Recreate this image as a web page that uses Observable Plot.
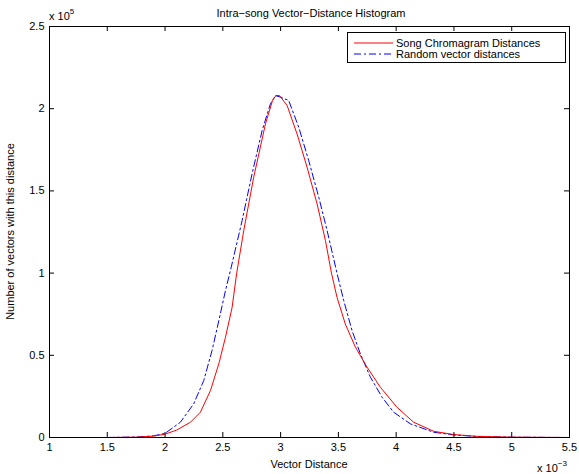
<!DOCTYPE html>
<html>
<head>
<meta charset="utf-8">
<script src="https://cdn.jsdelivr.net/npm/d3@7"></script>
<script src="https://cdn.jsdelivr.net/npm/@observablehq/plot@0.6"></script>
<style>
  html, body { margin: 0; padding: 0; background: #fff; }
  svg { font-family: "Liberation Sans", Arial, Helvetica, sans-serif; }
</style>
</head>
<body>
<div id="chart"></div>
<script>
// Distances in units of 1e-3, counts in units of 1e5
const songDist = [1.5, 1.75, 1.9, 2.0, 2.1, 2.22, 2.306, 2.393, 2.465, 2.523, 2.58, 2.62, 2.681, 2.767, 2.869, 2.93, 2.96, 2.99, 3.056, 3.142, 3.229, 3.316, 3.388, 3.44, 3.488, 3.56, 3.647, 3.748, 3.863, 4.007, 4.151, 4.324, 4.497, 4.7, 5.0, 5.5];
const songCount = [0, 0.002, 0.008, 0.02, 0.045, 0.093, 0.154, 0.286, 0.448, 0.61, 0.79, 1.0, 1.259, 1.583, 1.908, 2.05, 2.08, 2.08, 2.02, 1.847, 1.644, 1.42, 1.198, 1.0, 0.853, 0.69, 0.55, 0.428, 0.306, 0.184, 0.093, 0.038, 0.018, 0.007, 0.002, 0];
const randDist = [1.5, 1.75, 1.9, 2.0, 2.133, 2.248, 2.335, 2.407, 2.465, 2.523, 2.566, 2.667, 2.753, 2.84, 2.912, 2.955, 3.0, 3.07, 3.157, 3.243, 3.33, 3.402, 3.488, 3.546, 3.618, 3.69, 3.777, 3.878, 3.978, 4.123, 4.324, 4.497, 4.7, 5.0, 5.5];
const randCount = [0, 0.003, 0.01, 0.025, 0.093, 0.205, 0.347, 0.53, 0.71, 0.894, 1.016, 1.32, 1.604, 1.867, 2.03, 2.08, 2.07, 2.05, 1.887, 1.685, 1.462, 1.26, 1.0, 0.833, 0.651, 0.509, 0.367, 0.245, 0.154, 0.083, 0.032, 0.016, 0.006, 0.002, 0];
const xTicks = [1, 1.5, 2, 2.5, 3, 3.5, 4, 4.5, 5, 5.5];
const yTicks = [0, 0.5, 1, 1.5, 2, 2.5];
const seriesNames = ["Song Chromagram Distances", "Random vector distances"];
const titleText = "Intra\u2212song Vector\u2212Distance Histogram";
const xLabel = "Vector Distance";
const yLabel = "Number of vectors with this distance";

const song = songDist.map((d, i) => ({x: d, y: songCount[i]}));
const rand = randDist.map((d, i) => ({x: d, y: randCount[i]}));

const W = 579, H = 474;
const mL = 49, mR = 10, mT = 26, mB = 37;
const xDom = [1, 5.5], yDom = [0, 2.5];
const fw = W - mL - mR, fh = H - mT - mB, tl = 5;
const tx = tl / fw * (xDom[1] - xDom[0]);  // tick length in x units
const ty = tl / fh * (yDom[1] - yDom[0]);  // tick length in y units

const plot = Plot.plot({
  width: W,
  height: H,
  marginLeft: mL,
  marginRight: mR,
  marginTop: mT,
  marginBottom: mB,
  style: {fontFamily: '"Liberation Sans", Arial, sans-serif', fontSize: "11px", color: "#000", background: "#fff"},
  x: {domain: xDom},
  y: {domain: yDom},
  marks: [
    Plot.line(rand, {x: "x", y: "y", stroke: "#0000ff", strokeWidth: 1, strokeDasharray: "7,3,2,3"}),
    Plot.line(song, {x: "x", y: "y", stroke: "#ff0000", strokeWidth: 1}),
    Plot.axisX(xTicks, {anchor: "bottom", tickSize: 0, tickPadding: 6, label: null, tickFormat: d => String(d), fontSize: 11}),
    Plot.axisY(yTicks, {anchor: "left", tickSize: 0, tickPadding: 5, label: null, tickFormat: d => String(d), fontSize: 11}),
    Plot.ruleX(xTicks, {x: d => d, y1: yDom[0], y2: yDom[0] + ty, stroke: "#000", strokeWidth: 1}),
    Plot.ruleX(xTicks, {x: d => d, y1: yDom[1] - ty, y2: yDom[1], stroke: "#000", strokeWidth: 1}),
    Plot.ruleY(yTicks, {y: d => d, x1: xDom[0], x2: xDom[0] + tx, stroke: "#000", strokeWidth: 1}),
    Plot.ruleY(yTicks, {y: d => d, x1: xDom[1] - tx, x2: xDom[1], stroke: "#000", strokeWidth: 1}),
    Plot.frame({stroke: "#000", strokeWidth: 1})
  ]
});

document.getElementById("chart").appendChild(plot);

const svg = d3.select(plot);
const font = '"Liberation Sans", Arial, sans-serif';

// Title
svg.append("text").attr("x", 311).attr("y", 17).attr("text-anchor", "middle")
  .attr("font-size", 11).attr("font-family", font).attr("fill", "#000").text(titleText);
// X label
svg.append("text").attr("x", 309).attr("y", 468).attr("text-anchor", "middle")
  .attr("font-size", 11).attr("font-family", font).attr("fill", "#000").text(xLabel);
// Y label
svg.append("text").attr("transform", `translate(14,${(mT + H - mB) / 2}) rotate(-90)`)
  .attr("text-anchor", "middle").attr("font-size", 11).attr("font-family", font).attr("fill", "#000").text(yLabel);

// Exponent labels
const yExp = svg.append("text").attr("x", 49).attr("y", 20).attr("text-anchor", "start").attr("font-size", 11).attr("font-family", font).attr("fill", "#000");
yExp.append("tspan").text("x 10");
yExp.append("tspan").attr("dy", -6).attr("font-size", 8).text("5");
const xExp = svg.append("text").attr("x", 537).attr("y", 472).attr("text-anchor", "start").attr("font-size", 11).attr("font-family", font).attr("fill", "#000");
xExp.append("tspan").text("x 10");
xExp.append("tspan").attr("dy", -6).attr("font-size", 8).text("\u22123");

// Legend
const lg = svg.append("g");
lg.append("rect").attr("x", 347.5).attr("y", 32.5).attr("width", 218).attr("height", 30)
  .attr("fill", "#fff").attr("stroke", "#000").attr("stroke-width", 1);
const colors = ["#ff0000", "#0000ff"];
const dashes = [null, "7,3,2,3"];
seriesNames.forEach((name, i) => {
  const yy = 43 + i * 11;
  lg.append("line").attr("x1", 354).attr("x2", 393).attr("y1", yy).attr("y2", yy)
    .attr("stroke", colors[i]).attr("stroke-width", 1).attr("stroke-dasharray", dashes[i]);
  lg.append("text").attr("x", 396).attr("y", yy + 4).attr("text-anchor", "start").attr("font-size", 11).attr("font-family", font)
    .attr("fill", "#000").text(name);
});
</script>
</body>
</html>
